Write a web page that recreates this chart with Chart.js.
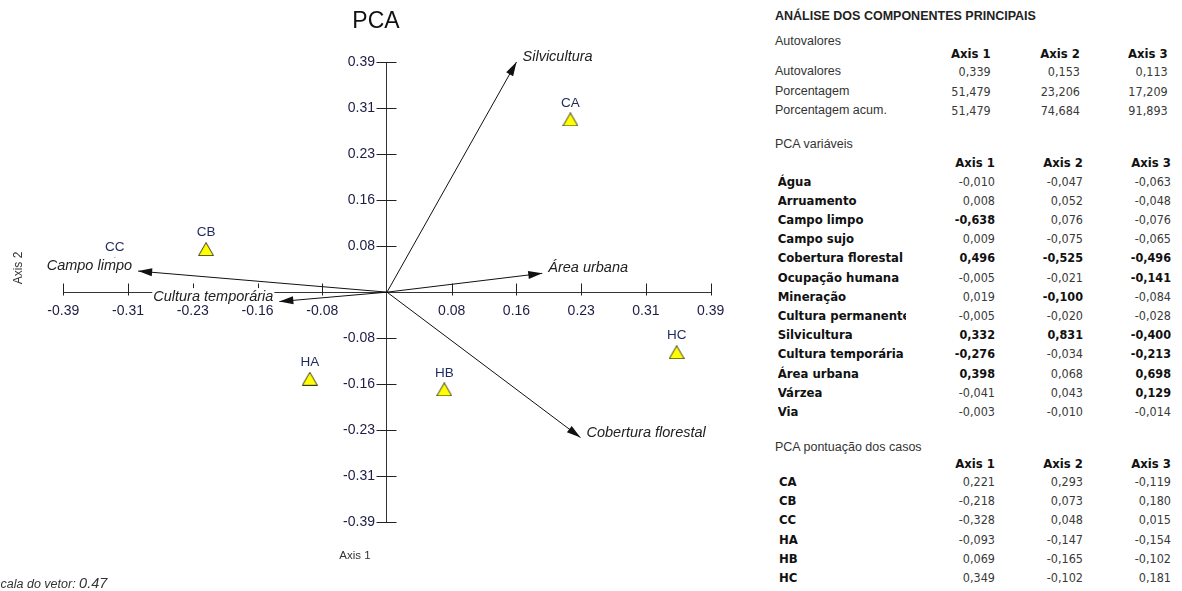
<!DOCTYPE html>
<html>
<head>
<meta charset="utf-8">
<script src="https://cdn.jsdelivr.net/npm/chart.js@4.4.1/dist/chart.umd.min.js"></script>
<style>
  body { margin: 0; background: #fff; width: 1182px; height: 591px; overflow: hidden; position: relative; }
  #biplot { position: absolute; left: 0; top: 0; }
  .t { position: absolute; white-space: nowrap; line-height: 20px; height: 20px; color: #333; }
  .titulo { font: bold 12.5px "Liberation Sans", Arial, sans-serif; color: #222; }
  .secao { font: 12.5px "Liberation Sans", Arial, sans-serif; color: #333; }
  .cab { font: bold 13px "DejaVu Sans Condensed", "DejaVu Sans", sans-serif; font-stretch: condensed; color: #111; }
  .rot { font: bold 13px "DejaVu Sans Condensed", "DejaVu Sans", sans-serif; font-stretch: condensed; color: #111; overflow: hidden; }
  .num { font: 12.5px "DejaVu Sans Condensed", "DejaVu Sans", sans-serif; font-stretch: condensed; color: #3a3a3a; }
  .num.forte { font-weight: bold; color: #111; }
</style>
</head>
<body>
<canvas id="biplot" width="740" height="591"></canvas>
<div id="tabela"></div>
<script>
// dados da PCA
const variaveis = ['Água', 'Arruamento', 'Campo limpo', 'Campo sujo', 'Cobertura florestal', 'Ocupação humana',
  'Mineração', 'Cultura permanente', 'Silvicultura', 'Cultura temporária', 'Área urbana', 'Várzea', 'Via'];
const varAxis1 = [-0.010, 0.008, -0.638, 0.009, 0.496, -0.005, 0.019, -0.005, 0.332, -0.276, 0.398, -0.041, -0.003];
const varAxis2 = [-0.047, 0.052, 0.076, -0.075, -0.525, -0.021, -0.100, -0.020, 0.831, -0.034, 0.068, 0.043, -0.010];
const varAxis3 = [-0.063, -0.048, -0.076, -0.065, -0.496, -0.141, -0.084, -0.028, -0.400, -0.213, 0.698, 0.129, -0.014];

const casos = ['CA', 'CB', 'CC', 'HA', 'HB', 'HC'];
const casoAxis1 = [0.221, -0.218, -0.328, -0.093, 0.069, 0.349];
const casoAxis2 = [0.293, 0.073, 0.048, -0.147, -0.165, -0.102];
const casoAxis3 = [-0.119, 0.180, 0.015, -0.154, -0.102, 0.181];

const eixos = ['Axis 1', 'Axis 2', 'Axis 3'];
const autovalores = [0.339, 0.153, 0.113];
const porcentagem = [51.479, 23.206, 17.209];
const porcentagemAcum = [51.479, 74.684, 91.893];

const vetoresVisiveis = ['Silvicultura', 'Área urbana', 'Cobertura florestal', 'Cultura temporária', 'Campo limpo'];
const escalaVetor = 0.47;

const ticksValores = [-0.39, -0.312, -0.234, -0.156, -0.078, 0.078, 0.156, 0.234, 0.312, 0.39];
const ticksLabels = ['-0.39', '-0.31', '-0.23', '-0.16', '-0.08', '0.08', '0.16', '0.23', '0.31', '0.39'];

const fonte = '"Liberation Sans", Arial, sans-serif';

// triangulo amarelo dos casos
function trianguloImg() {
  const c = document.createElement('canvas');
  c.width = 16; c.height = 14;
  const g = c.getContext('2d');
  g.beginPath();
  g.moveTo(8, 0.5); g.lineTo(15.5, 13.5); g.lineTo(0.5, 13.5); g.closePath();
  g.fillStyle = '#ffff00'; g.fill();
  g.strokeStyle = '#3a3a20'; g.lineWidth = 1; g.stroke();
  return c;
}

const pontos = casos.map((c, i) => ({ x: casoAxis1[i], y: casoAxis2[i] }));

const vetores = vetoresVisiveis.map(nome => {
  const i = variaveis.indexOf(nome);
  return {
    label: nome,
    type: 'line',
    showLine: true,
    data: [{ x: 0, y: 0 }, { x: varAxis1[i] * escalaVetor, y: varAxis2[i] * escalaVetor }],
    borderColor: '#111',
    borderWidth: 1,
    pointRadius: 0,
    clip: false
  };
});

const biplotPlugin = {
  id: 'biplot',
  beforeDatasetsDraw(chart) {
    const ctx = chart.ctx;
    const sx = chart.scales.x, sy = chart.scales.y;
    const x0 = Math.round(sx.getPixelForValue(0)) + 0.5;
    const y0 = Math.round(sy.getPixelForValue(0)) + 0.5;
    ctx.save();
    ctx.strokeStyle = '#222';
    ctx.lineWidth = 1;
    ctx.beginPath();
    ticksValores.forEach(v => {
      const px = Math.round(sx.getPixelForValue(v)) + 0.5;
      ctx.moveTo(px, y0 - 9); ctx.lineTo(px, y0 + 3);
      const py = Math.round(sy.getPixelForValue(v)) + 0.5;
      ctx.moveTo(x0 - 11, py); ctx.lineTo(x0 + 9, py);
    });
    ctx.stroke();
    ctx.restore();
  },
  afterDatasetsDraw(chart) {
    const ctx = chart.ctx;
    ctx.save();
    // setas e nomes das variaveis
    chart.data.datasets.forEach((ds, di) => {
      if (ds.type !== 'line') return;
      const meta = chart.getDatasetMeta(di);
      const p0 = meta.data[0], p1 = meta.data[1];
      const ang = Math.atan2(p1.y - p0.y, p1.x - p0.x);
      const c = Math.cos(ang), s = Math.sin(ang);
      ctx.fillStyle = '#111';
      ctx.beginPath();
      ctx.moveTo(p1.x, p1.y);
      ctx.lineTo(p1.x - 14 * c + 4 * s, p1.y - 14 * s - 4 * c);
      ctx.lineTo(p1.x - 14 * c - 4 * s, p1.y - 14 * s + 4 * c);
      ctx.closePath();
      ctx.fill();

      ctx.font = 'italic 14.5px ' + fonte;
      ctx.textBaseline = 'middle';
      const w = ctx.measureText(ds.label).width;
      const direita = p1.x >= p0.x;
      const tx = direita ? p1.x + 6 : p1.x - 6 - w;
      const ty = p1.y - 5;
      ctx.fillStyle = '#fff';
      ctx.fillRect(tx - 1, ty - 8.5, w + 2, 17);
      ctx.fillStyle = '#222';
      ctx.textAlign = 'left';
      ctx.fillText(ds.label, tx, ty);
    });
    // nomes dos casos
    const meta = chart.getDatasetMeta(0);
    ctx.font = '13.5px ' + fonte;
    ctx.textAlign = 'center';
    ctx.textBaseline = 'middle';
    ctx.fillStyle = '#1f2a5a';
    meta.data.forEach((pt, i) => ctx.fillText(casos[i], pt.x, pt.y - 16.5));
    ctx.restore();
  },
  afterDraw(chart) {
    const ctx = chart.ctx;
    ctx.save();
    ctx.textAlign = 'center';
    ctx.textBaseline = 'middle';
    ctx.fillStyle = '#111';
    ctx.font = '23px ' + fonte;
    ctx.fillText('PCA', 376, 22);
    ctx.fillStyle = '#333';
    ctx.font = '11.5px ' + fonte;
    ctx.fillText('Axis 1', 355, 556);
    ctx.save();
    ctx.translate(19, 268);
    ctx.rotate(-Math.PI / 2);
    ctx.font = '12px ' + fonte;
    ctx.fillText('Axis 2', 0, 0);
    ctx.restore();
    ctx.textAlign = 'left';
    ctx.textBaseline = 'alphabetic';
    ctx.font = 'italic 12.5px ' + fonte;
    const rot = 'Escala do vetor: ';
    ctx.fillText(rot, -14, 588);
    const w = ctx.measureText(rot).width;
    ctx.font = 'italic 14.5px ' + fonte;
    ctx.fillText(String(escalaVetor), -14 + w, 588);
    ctx.restore();
  }
};

// eixos simetricos: 'center' cai exatamente no zero
const eixo = {
  type: 'linear',
  min: -0.39,
  max: 0.39,
  position: 'center',
  grid: { display: false, drawTicks: false },
  border: { display: true, color: '#333', width: 1 },
  afterBuildTicks: s => { s.ticks = ticksValores.map(v => ({ value: v })); },
  ticks: {
    autoSkip: false,
    maxRotation: 0,
    color: '#1c1c44',
    font: { family: fonte, size: 14 },
    callback: (v, i) => ticksLabels[i]
  }
};

new Chart(document.getElementById('biplot'), {
  type: 'scatter',
  data: {
    datasets: [{
      label: 'Casos',
      data: pontos,
      pointStyle: trianguloImg(),
      pointRadius: 8,
      clip: false
    }, ...vetores]
  },
  options: {
    responsive: false,
    animation: false,
    events: [],
    layout: { padding: { left: 63.3, right: 29.3, top: 62.3, bottom: 69 } },
    plugins: { legend: { display: false }, tooltip: { enabled: false } },
    scales: {
      x: { ...eixo, ticks: { ...eixo.ticks, padding: 11 } },
      y: { ...eixo, ticks: { ...eixo.ticks, padding: 12 } }
    }
  },
  plugins: [biplotPlugin]
});

// tabela da direita
const tabela = document.getElementById('tabela');
function texto(str, x, y, classe, alinhar, largura) {
  const d = document.createElement('div');
  d.className = 't ' + classe;
  d.textContent = str;
  d.style.top = (y - 10) + 'px';
  if (alinhar === 'right') d.style.right = (1182 - x) + 'px';
  else d.style.left = x + 'px';
  if (largura) d.style.width = largura + 'px';
  tabela.appendChild(d);
}
const fmt = v => v.toFixed(3).replace('.', ',');

texto('ANÁLISE DOS COMPONENTES PRINCIPAIS', 775, 19, 'titulo');
texto('Autovalores', 775, 43.5, 'secao');
const col1 = [990.7, 1080, 1167.7];
eixos.forEach((e, j) => texto(e, col1[j], 56, 'cab', 'right'));
[['Autovalores', autovalores], ['Porcentagem', porcentagem], ['Porcentagem acum.', porcentagemAcum]].forEach((r, i) => {
  const y = 74 + i * 19.7;
  texto(r[0], 775, y, 'secao');
  r[1].forEach((v, j) => texto(fmt(v), col1[j], y, 'num', 'right'));
});

texto('PCA variáveis', 775, 146.5, 'secao');
const col2 = [995, 1083, 1171];
eixos.forEach((e, j) => texto(e, col2[j], 165, 'cab', 'right'));
variaveis.forEach((nome, i) => {
  const y = 183.5 + i * 19.22;
  texto(nome, 777.7, y, 'rot', 'left', 128.5);
  [varAxis1[i], varAxis2[i], varAxis3[i]].forEach((v, j) =>
    texto(fmt(v), col2[j], y, Math.abs(v) >= 0.1 ? 'num forte' : 'num', 'right'));
});

texto('PCA pontuação dos casos', 775, 450, 'secao');
eixos.forEach((e, j) => texto(e, col2[j], 466, 'cab', 'right'));
casos.forEach((nome, i) => {
  const y = 484 + i * 19.2;
  texto(nome, 779, y, 'rot', 'left');
  [casoAxis1[i], casoAxis2[i], casoAxis3[i]].forEach((v, j) => texto(fmt(v), col2[j], y, 'num', 'right'));
});
</script>
</body>
</html>
